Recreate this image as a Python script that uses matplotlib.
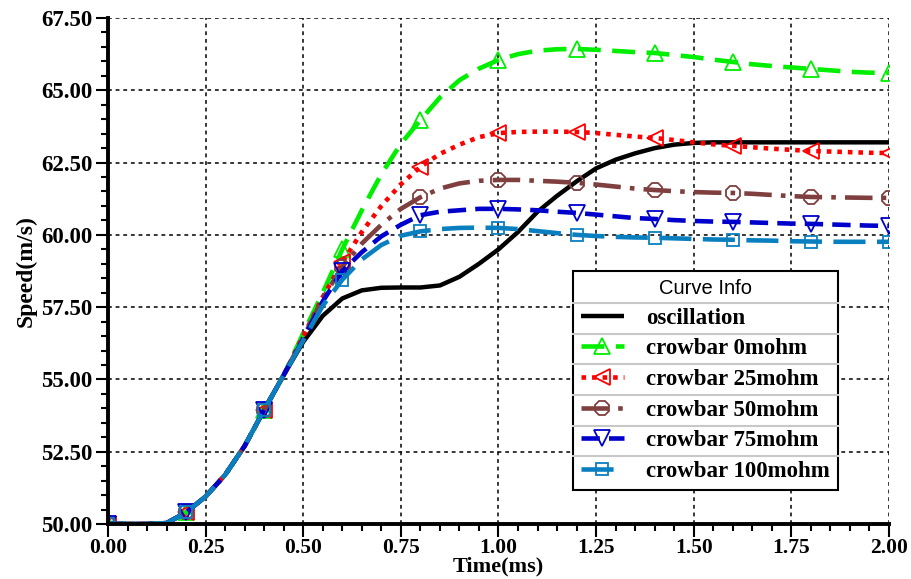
import matplotlib
matplotlib.use('Agg')
import matplotlib.pyplot as plt
from matplotlib.ticker import MultipleLocator, FormatStrFormatter
from matplotlib.lines import Line2D

# время, мс (шаг 0.05)
t = [0.00, 0.05, 0.10, 0.15, 0.20, 0.25, 0.30, 0.35, 0.40, 0.45,
     0.50, 0.55, 0.60, 0.65, 0.70, 0.75, 0.80, 0.85, 0.90, 0.95,
     1.00, 1.05, 1.10, 1.15, 1.20, 1.25, 1.30, 1.35, 1.40, 1.45,
     1.50, 1.55, 1.60, 1.65, 1.70, 1.75, 1.80, 1.85, 1.90, 1.95, 2.00]

# общий участок разгона (0 ... 0.45 мс)
rise = [50.0, 50.0, 50.0, 50.03, 50.4, 50.95, 51.7, 52.7, 53.95, 55.15]

oscillation = rise + [56.3, 57.2, 57.8, 58.08, 58.17, 58.18, 58.18, 58.25, 58.55, 59.0,
                      59.5, 60.1, 60.8, 61.35, 61.85, 62.3, 62.6, 62.82, 63.0, 63.12,
                      63.18, 63.2, 63.2, 63.2, 63.2, 63.2, 63.2, 63.2, 63.2, 63.2, 63.2]
crowbar_0 = rise + [56.6, 58.0, 59.5, 60.85, 62.1, 63.15, 63.97, 64.75, 65.35, 65.75,
                    66.05, 66.25, 66.37, 66.42, 66.43, 66.4, 66.36, 66.32, 66.29, 66.22,
                    66.15, 66.06, 65.98, 65.9, 65.84, 65.79, 65.74, 65.69, 65.64, 65.61, 65.6]
crowbar_25 = rise + [56.5, 57.85, 59.05, 60.1, 61.0, 61.75, 62.35, 62.8, 63.12, 63.38,
                     63.52, 63.56, 63.57, 63.57, 63.56, 63.52, 63.46, 63.4, 63.35, 63.28,
                     63.2, 63.13, 63.08, 63.03, 62.98, 62.94, 62.9, 62.88, 62.86, 62.84, 62.83]
crowbar_50 = rise + [56.45, 57.8, 58.9, 59.7, 60.35, 60.9, 61.3, 61.6, 61.78, 61.87,
                     61.9, 61.9, 61.87, 61.84, 61.8, 61.74, 61.67, 61.6, 61.55, 61.51,
                     61.48, 61.46, 61.45, 61.42, 61.38, 61.34, 61.31, 61.3, 61.29, 61.28, 61.28]
crowbar_75 = rise + [56.4, 57.7, 58.75, 59.4, 59.95, 60.35, 60.68, 60.8, 60.85, 60.9,
                     60.9, 60.88, 60.85, 60.8, 60.76, 60.7, 60.64, 60.58, 60.55, 60.51,
                     60.48, 60.46, 60.45, 60.43, 60.41, 60.39, 60.38, 60.36, 60.34, 60.32, 60.31]
crowbar_100 = rise + [56.35, 57.55, 58.45, 59.15, 59.65, 59.97, 60.12, 60.2, 60.24, 60.25,
                      60.24, 60.2, 60.13, 60.06, 60.0, 59.96, 59.93, 59.91, 59.9, 59.88,
                      59.86, 59.84, 59.83, 59.81, 59.8, 59.78, 59.77, 59.76, 59.76, 59.76, 59.76]

labels = ['oscillation', 'crowbar 0mohm', 'crowbar 25mohm',
          'crowbar 50mohm', 'crowbar 75mohm', 'crowbar 100mohm']

serif = 'Liberation Serif'

fig = plt.figure(figsize=(9.12, 5.79), dpi=100)
ax = fig.add_axes([0.1184, 0.095, 0.8564, 0.8739])

# маркеры каждые 0.2 мс
marks = [i for i in range(len(t)) if i % 4 == 0]

ax.plot(t, oscillation, color='black', lw=3.2, solid_capstyle='butt', label=labels[0])

styles = [
    (crowbar_0, '#00ee00', '^', (5, 2.5), 11),
    (crowbar_25, '#ff0000', '<', (1, 1.3), 11),
    (crowbar_50, '#7f3f3f', '8', (6, 2, 1, 2), 11),
    (crowbar_75, '#0000cc', 'v', (4, 2), 11),
    (crowbar_100, '#0a7fc0', 's', (7, 2.5), 8),
]
for (y, c, m, d, ms), lab in zip(styles, labels[1:]):
    ax.plot(t, y, color=c, lw=3.3, dashes=d, dash_capstyle='butt',
            marker=m, markersize=ms, markevery=marks, markerfacecolor='none',
            markeredgecolor=c, markeredgewidth=1.3, label=lab)

ax.set_xlim(0, 2.0)
ax.set_ylim(50, 67.5)
ax.xaxis.set_major_locator(MultipleLocator(0.25))
ax.xaxis.set_minor_locator(MultipleLocator(0.05))
ax.yaxis.set_major_locator(MultipleLocator(2.5))
ax.yaxis.set_minor_locator(MultipleLocator(0.5))
ax.xaxis.set_major_formatter(FormatStrFormatter('%.2f'))
ax.yaxis.set_major_formatter(FormatStrFormatter('%.2f'))

ax.grid(True, which='major', color='black', linestyle=(0, (2.5, 2.5)), lw=1.1)
ax.set_axisbelow(True)

for s in ['top', 'right']:
    ax.spines[s].set_visible(False)
for s in ['left', 'bottom']:
    ax.spines[s].set_linewidth(2.8)

ax.tick_params(which='major', direction='out', length=9, width=1.5)
ax.tick_params(which='minor', direction='out', length=5, width=1.5)
ax.tick_params(axis='x', pad=1)
ax.tick_params(axis='y', pad=2)
for lab in ax.get_yticklabels():
    lab.set_fontfamily(serif)
    lab.set_fontweight('bold')
    lab.set_fontsize(16.5)
for lab in ax.get_xticklabels():
    lab.set_fontfamily(serif)
    lab.set_fontweight('bold')
    lab.set_fontsize(15.5)

ax.set_xlabel('Time(ms)', fontfamily=serif, fontweight='bold', fontsize=16, labelpad=-1)
ax.set_ylabel('Speed(m/s)', fontfamily=serif, fontweight='bold', fontsize=17, labelpad=3)

# легенда
leg = ax.legend(loc='upper left', bbox_to_anchor=(0.595, 0.5), numpoints=1,
                prop={'family': serif, 'weight': 'bold', 'size': 16.5},
                title='Curve Info', title_fontproperties={'family': 'Liberation Sans', 'size': 14.5},
                frameon=True, fancybox=False, edgecolor='black', framealpha=1,
                handlelength=1.9, handletextpad=0.95, labelspacing=0.42,
                borderpad=0.35, borderaxespad=0)
leg.get_frame().set_linewidth(1.5)
leg.set_zorder(5)

# разделители строк легенды
fig.canvas.draw()
fb = leg.get_frame().get_window_extent()
texts = leg.get_texts()
tops = [leg.get_title().get_window_extent()] + [tx.get_window_extent() for tx in texts]
inv = fig.transFigure.inverted()
for a, b in zip(tops[:-1], tops[1:]):
    ymid = (a.y0 + b.y1) / 2
    p0 = inv.transform((fb.x0, ymid))
    p1 = inv.transform((fb.x1, ymid))
    fig.add_artist(Line2D([p0[0], p1[0]], [p0[1], p1[1]], color='#c8c8c8', lw=1.5, zorder=10))

fig.savefig('out.png', dpi=100)
